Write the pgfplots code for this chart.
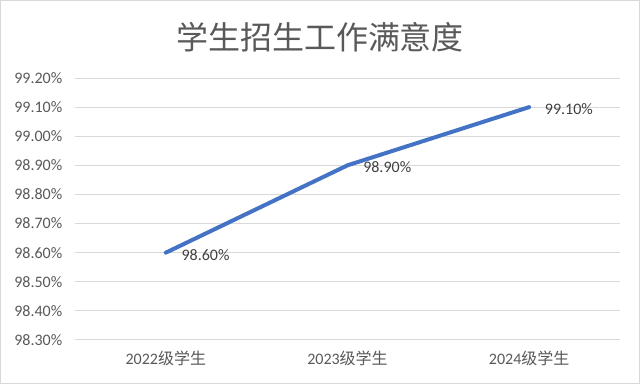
\documentclass[border=0pt]{standalone}
\usepackage{fontspec}
\setmainfont{Carlito}
\newfontfamily\cjk{Noto Sans CJK SC}
\usepackage{pgfplots}
\pgfplotsset{compat=1.18}
\definecolor{txt}{HTML}{595959}
\definecolor{lbl}{HTML}{404040}
\definecolor{grd}{HTML}{D9D9D9}
\definecolor{ln}{HTML}{4472C4}
\begin{document}
\begin{tikzpicture}
\useasboundingbox (0,0) rectangle (480pt,288pt);
\fill[white] (0,0) rectangle (480pt,288pt);
\draw[grd, line width=0.8pt] (0.4pt,0.4pt) rectangle (479.6pt,287.6pt);
\node[txt, font=\cjk\fontsize{24pt}{26pt}\selectfont] at (240pt,260pt) {学生招生工作满意度};
\begin{axis}[
  at={(56.25pt,33pt)}, anchor=south west,
  scale only axis, width=408.75pt, height=196.5pt,
  xmin=-0.5, xmax=2.5, ymin=98.3, ymax=99.2,
  xtick={0,1,2},
  xticklabels={2022{\cjk 级学生},2023{\cjk 级学生},2024{\cjk 级学生}},
  ytick={98.3,98.4,98.5,98.6,98.7,98.8,98.9,99.0,99.1,99.2},
  yticklabels={98.30\%,98.40\%,98.50\%,98.60\%,98.70\%,98.80\%,98.90\%,99.00\%,99.10\%,99.20\%},
  major tick length=0pt,
  ymajorgrids, grid style={grd, line width=0.75pt},
  axis line style={draw=none},
  tick label style={txt, font=\fontsize{12pt}{14pt}\selectfont},
  yticklabel style={xshift=-6pt},
  xticklabel style={yshift=-5pt},
  clip=false,
]
\draw[grd, line width=0.75pt] (axis cs:-0.5,98.3) -- (axis cs:2.5,98.3);
\addplot[ln, line width=3pt, line join=round, line cap=round,
  nodes near coords={\pgfmathprintnumber[fixed, fixed zerofill, precision=2, assume math mode=true]{\pgfplotspointmeta}\%},
  point meta=explicit,
  nodes near coords style={anchor=west, xshift=7pt, yshift=-1.5pt, lbl, font=\fontsize{12pt}{14pt}\selectfont},
] coordinates {(0,98.6) [98.60] (1,98.9) [98.90] (2,99.1) [99.10]};
\end{axis}
\end{tikzpicture}
\end{document}
